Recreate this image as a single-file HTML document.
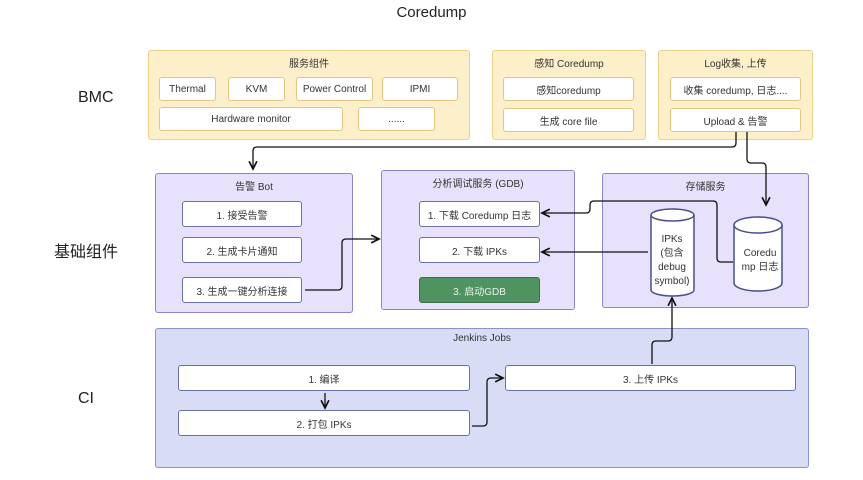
<!DOCTYPE html>
<html><head><meta charset="utf-8"><style>
body{margin:0;width:863px;height:480px;background:#fff;position:relative;overflow:hidden;font-family:"Liberation Sans","Noto Sans CJK SC",sans-serif;}
.a{position:absolute;box-sizing:border-box;}
.y{background:#fcefc9;border:1.5px solid #ecd18a;border-radius:3px;}
.p{background:#e8e1fb;border:1.5px solid #8c86c7;border-radius:3px;}
.c{background:#d8ddf5;border:1.5px solid #8a93cc;border-radius:3px;}
.w{background:#fff;border:1.5px solid #e2c784;border-radius:3px;font-size:10px;color:#333;display:flex;align-items:center;justify-content:center;}
.wp{background:#fff;border:1.5px solid #6a70a8;border-radius:3px;font-size:10px;color:#333;display:flex;align-items:center;justify-content:center;}
.t{font-size:10px;color:#333;text-align:center;}
.l{font-size:16px;color:#222;}
</style></head><body>
<div class="a" style="left:0;width:863px;top:4px;text-align:center;font-size:15px;color:#222">Coredump</div>
<div class="a l" style="left:78px;top:89px">BMC</div>
<div class="a l" style="left:54px;top:238px">基础组件</div>
<div class="a l" style="left:78px;top:390px">CI</div>

<div class="a y" style="left:148px;top:50px;width:322px;height:90px"></div>
<div class="a t" style="left:148px;top:55px;width:322px">服务组件</div>
<div class="a w" style="left:159px;top:77px;width:57px;height:24px">Thermal</div>
<div class="a w" style="left:228px;top:77px;width:57px;height:24px">KVM</div>
<div class="a w" style="left:296px;top:77px;width:77px;height:24px">Power Control</div>
<div class="a w" style="left:382px;top:77px;width:76px;height:24px">IPMI</div>
<div class="a w" style="left:159px;top:107px;width:184px;height:24px">Hardware monitor</div>
<div class="a w" style="left:358px;top:107px;width:77px;height:24px">......</div>

<div class="a y" style="left:492px;top:50px;width:154px;height:90px"></div>
<div class="a t" style="left:492px;top:55px;width:154px">感知 Coredump</div>
<div class="a w" style="left:503px;top:77px;width:131px;height:24px">感知coredump</div>
<div class="a w" style="left:503px;top:108px;width:131px;height:24px">生成 core file</div>

<div class="a y" style="left:658px;top:50px;width:155px;height:90px"></div>
<div class="a t" style="left:658px;top:55px;width:155px">Log收集, 上传</div>
<div class="a w" style="left:670px;top:77px;width:131px;height:24px">收集 coredump, 日志....</div>
<div class="a w" style="left:670px;top:108px;width:131px;height:24px">Upload &amp; 告警</div>

<div class="a p" style="left:155px;top:173px;width:198px;height:140px"></div>
<div class="a t" style="left:155px;top:178px;width:198px">告警 Bot</div>
<div class="a wp" style="left:182px;top:201px;width:120px;height:26px">1. 接受告警</div>
<div class="a wp" style="left:182px;top:237px;width:120px;height:26px">2. 生成卡片通知</div>
<div class="a wp" style="left:182px;top:277px;width:120px;height:26px">3. 生成一键分析连接</div>

<div class="a p" style="left:381px;top:170px;width:194px;height:140px"></div>
<div class="a t" style="left:381px;top:175px;width:194px">分析调试服务 (GDB)</div>
<div class="a wp" style="left:419px;top:201px;width:121px;height:26px">1. 下载 Coredump 日志</div>
<div class="a wp" style="left:419px;top:237px;width:121px;height:26px">2. 下载 IPKs</div>
<div class="a wp" style="left:419px;top:277px;width:121px;height:26px;background:#4f9460;color:#e8f3ea;border-color:#3d6e4a">3. 启动GDB</div>

<div class="a p" style="left:602px;top:173px;width:207px;height:135px"></div>
<div class="a t" style="left:602px;top:178px;width:207px">存储服务</div>

<div class="a c" style="left:155px;top:328px;width:654px;height:140px"></div>
<div class="a t" style="left:155px;top:333px;width:654px">Jenkins Jobs</div>
<div class="a wp" style="left:178px;top:365px;width:292px;height:26px">1. 编译</div>
<div class="a wp" style="left:178px;top:410px;width:292px;height:26px">2. 打包 IPKs</div>
<div class="a wp" style="left:505px;top:365px;width:291px;height:26px">3. 上传 IPKs</div>

<svg class="a" style="left:0;top:0" width="863" height="480">
<defs><marker id="m" markerWidth="8" markerHeight="8" refX="7" refY="4" orient="auto"><path d="M1,1 L7,4 L1,7" fill="none" stroke="#111" stroke-width="1.3"/></marker></defs>
<g fill="#fff" stroke="#4a4f8a" stroke-width="1.5">
<path d="M651,215 L651,290 A21.5,6 0 0 0 694,290 L694,215"/><ellipse cx="672.5" cy="215" rx="21.5" ry="6"/>
<path d="M734,225 L734,283 A24,8 0 0 0 782,283 L782,225"/><ellipse cx="758" cy="225" rx="24" ry="8"/>
</g>
<text x="672" y="242" font-size="10" text-anchor="middle" fill="#333">IPKs</text>
<text x="672" y="256" font-size="10" text-anchor="middle" fill="#333">(包含</text>
<text x="672" y="270" font-size="10" text-anchor="middle" fill="#333">debug</text>
<text x="672" y="284" font-size="10" text-anchor="middle" fill="#333">symbol)</text>
<text x="760" y="256" font-size="10" text-anchor="middle" fill="#333">Coredu</text>
<text x="760" y="270" font-size="10" text-anchor="middle" fill="#333">mp 日志</text>
<g fill="none" stroke="#111" stroke-width="1.3" marker-end="url(#m)">
<path d="M736,132 L736,143 Q736,147 732,147 L257,147 Q253,147 253,151 L253,169"/>
<path d="M747,132 L747,159 Q747,163 751,163 L762,163 Q766,163 766,167 L766,205"/>
<path d="M733,262 L721,262 Q717,262 717,258 L717,205 Q717,201 713,201 L594,201 Q590,201 590,205 L590,209 Q590,213 586,213 L542,213"/>
<path d="M648,252 L542,252"/>
<path d="M305,290 L338,290 Q342,290 342,286 L342,243 Q342,239 346,239 L379,239"/>
<path d="M325,393 L325,408"/>
<path d="M472,426 L483,426 Q487,426 487,422 L487,382 Q487,378 491,378 L503,378"/>
<path d="M652,364 L652,345 Q652,341 656,341 L668,341 Q672,341 672,337 L672,298"/>
</g>
</svg>
</body></html>
